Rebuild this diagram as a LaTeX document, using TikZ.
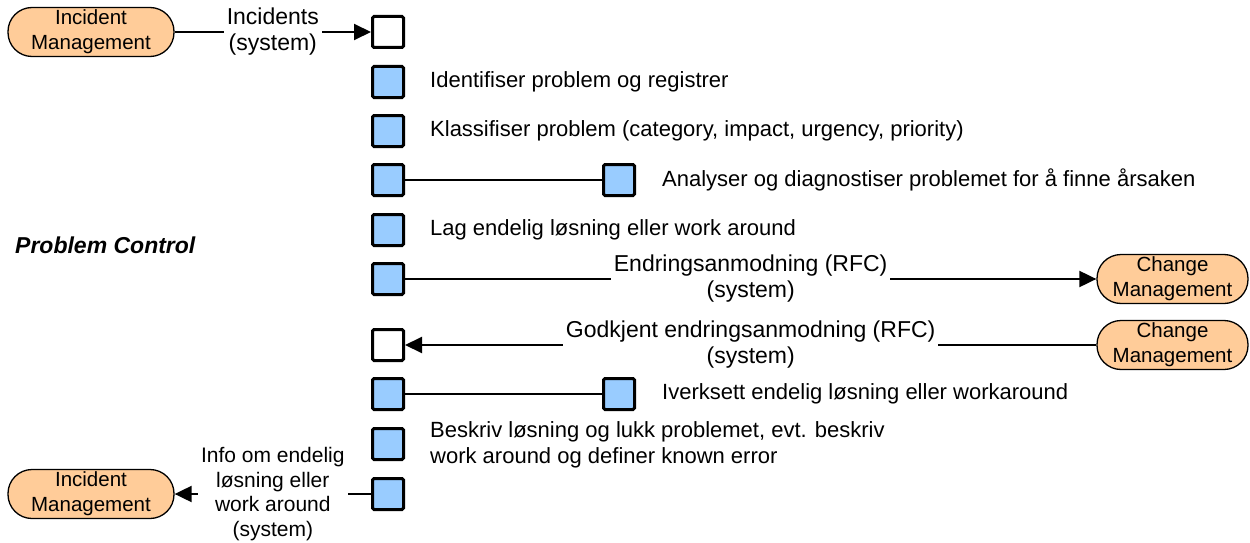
\documentclass[tikz,border=0pt]{standalone}
\usepackage{fontspec}
\setmainfont{Liberation Sans}
\usetikzlibrary{arrows.meta}
\definecolor{stepblue}{HTML}{99CCFF}
\definecolor{procorange}{HTML}{FFCC99}
\begin{document}
\begin{tikzpicture}[x=1pt,y=-1pt,
  act/.style={draw=black, line width=3pt, fill=stepblue, minimum width=31pt,
    minimum height=31pt, inner sep=0pt, rounded corners=1.5pt},
  evt/.style={act, fill=white},
  proc/.style={draw=black, line width=1.3pt, fill=procorange, rounded corners=24pt,
    minimum height=49pt, align=center, inner sep=0pt,
    font=\fontsize{20.5}{25}\selectfont},
  flow/.style={line width=2pt},
  tip/.style={-{Triangle[length=17pt,width=16pt]}},
  lbl/.style={fill=white, inner xsep=3pt, inner ysep=0pt, align=center,
    font=\fontsize{23}{26}\selectfont},
  desc/.style={anchor=west, inner sep=0pt, align=left,
    font=\fontsize{22}{25.5}\selectfont}
]
\useasboundingbox (0,0) rectangle (1250,543);

% external processes
\node[proc, minimum width=166pt] (im1) at (91,32) {Incident\\Management};
\node[proc, minimum width=166pt] (im2) at (91,494) {Incident\\Management};
\node[proc, minimum width=151pt] (cm1) at (1172.5,279) {Change\\Management};
\node[proc, minimum width=151pt] (cm2) at (1172.5,345) {Change\\Management};

% title
\node[anchor=west, inner sep=0pt, font=\fontsize{23}{26}\selectfont\bfseries\itshape]
  (title) at (15,245) {Problem Control};

% activity column
\node[evt] (e0) at (388,32) {};
\node[act] (a1) at (388,82) {};
\node[act] (a2) at (388,131) {};
\node[act] (a3) at (388,180) {};
\node[act] (b3) at (619,180) {};
\node[act] (a4) at (388,230) {};
\node[act] (a5) at (388,279) {};
\node[evt] (e6) at (388,345) {};
\node[act] (a7) at (388,394) {};
\node[act] (b7) at (619,394) {};
\node[act] (a8) at (388,444) {};
\node[act] (a9) at (388,494) {};

% activity descriptions
\node[desc] (t1) at (430,82) {Identifiser problem og registrer};
\node[desc] (t2) at (430,131) {Klassifiser problem (category, impact, urgency, priority)};
\node[desc] (t3) at (662,180) {Analyser og diagnostiser problemet for å finne årsaken};
\node[desc] (t4) at (430,230) {Lag endelig løsning eller work around};
\node[desc] (t7) at (662,394) {Iverksett endelig løsning eller workaround};
\node[desc] (t8) at (430,445) {Beskriv løsning og lukk problemet, evt. beskriv\\work around og definer known error};

% flows
\draw[flow, tip] (im1) -- node[lbl] {Incidents\\(system)} (e0);
\draw[flow] (a3) -- (b3);
\draw[flow, tip] (a5) -- node[lbl] {Endringsanmodning (RFC)\\(system)} (cm1);
\draw[flow, tip] (cm2) -- node[lbl] {Godkjent endringsanmodning (RFC)\\(system)} (e6);
\draw[flow] (a7) -- (b7);
\draw[flow, tip] (a9) -- node[lbl, font=\fontsize{21}{24.5}\selectfont]
  {Info om endelig\\løsning eller\\work around\\(system)} (im2);
\end{tikzpicture}
\end{document}
